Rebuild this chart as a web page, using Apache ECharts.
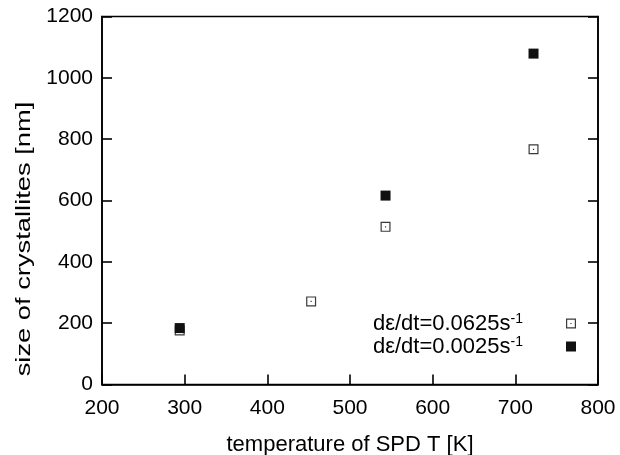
<!DOCTYPE html>
<html>
<head>
<meta charset="utf-8">
<script src="https://cdn.jsdelivr.net/npm/echarts@6/dist/echarts.min.js"></script>
<style>
html,body{margin:0;padding:0;background:#fff;}
#chart{width:620px;height:455px;}
</style>
</head>
<body>
<div id="chart"></div>
<script>
// ---- data ----
const xTitle = 'temperature of SPD T [K]';
const yTitle = 'size of crystallites [nm]';
const seriesNames = ['dε/dt=0.0625s^-1', 'dε/dt=0.0025s^-1'];
const tempFast = [294, 453, 543, 722];
const sizeFast = [176, 271, 514, 767];
const tempSlow = [294, 543, 722];
const sizeSlow = [184, 616, 1079];
const xTicks = [200, 300, 400, 500, 600, 700, 800];
const yTicks = [0, 200, 400, 600, 800, 1000, 1200];

const FONT = 'Liberation Sans, Arial, Helvetica, sans-serif';
const openSquare = 'path://M0,0H10V10H0Z M1.2,1.2V8.8H8.8V1.2Z M4.4,4.4H5.6V5.6H4.4Z';

function zip(a, b) { return a.map((v, i) => [v, b[i]]); }

const chart = echarts.init(document.getElementById('chart'), null, {renderer: 'canvas'});
const axisLineStyle = {color: '#000', width: 1.6};
chart.setOption({
  animation: false,
  backgroundColor: '#fff',
  textStyle: {fontFamily: FONT},
  grid: {left: 102, right: 22, top: 16.5, bottom: 70.5, containLabel: false, outerBoundsMode: 'none',
         show: true, borderColor: '#000', borderWidth: 1.6, backgroundColor: 'transparent'},
  graphic: [{
    type: 'text', x: 24, y: 239, rotation: Math.PI / 2, scaleX: 1.3,
    style: {text: yTitle, font: '21px ' + FONT, fill: '#000', align: 'center', verticalAlign: 'middle'}
  }],
  legend: {
    orient: 'vertical', right: 44, top: 312, align: 'right', padding: 0,
    itemWidth: 10, itemHeight: 10, itemGap: 0,
    data: seriesNames,
    formatter: function (name) {
      const parts = name.split('^');
      return '{m|' + parts[0] + '}{s|' + parts[1] + '}{g|}';
    },
    textStyle: {
      fontFamily: FONT, color: '#000',
      rich: {
        m: {fontSize: 22, lineHeight: 23, verticalAlign: 'bottom', fontFamily: FONT, color: '#000'},
        s: {fontSize: 14, lineHeight: 14, verticalAlign: 'top', fontFamily: FONT, color: '#000'},
        g: {width: 38}
      }
    }
  },
  xAxis: {
    type: 'value', min: 200, max: 800, interval: 100,
    name: xTitle, nameLocation: 'middle', nameGap: 49,
    nameTextStyle: {fontSize: 22, fontFamily: FONT, color: '#000'},
    axisLine: {show: true, lineStyle: axisLineStyle},
    axisTick: {show: true, inside: true, length: 10, lineStyle: axisLineStyle},
    axisLabel: {fontSize: 21, fontFamily: FONT, color: '#000', margin: 13,
      formatter: function (v) { return xTicks.indexOf(v) >= 0 ? String(v) : ''; }},
    splitLine: {show: false}
  },
  yAxis: [{
    type: 'value', min: 0, max: 1200, interval: 200,
    axisLine: {show: true, lineStyle: axisLineStyle},
    axisTick: {show: true, inside: true, length: 10, lineStyle: axisLineStyle},
    axisLabel: {fontSize: 21, fontFamily: FONT, color: '#000', margin: 9,
      formatter: function (v) { return yTicks.indexOf(v) >= 0 ? String(v) : ''; }},
    splitLine: {show: false}
  }, {
    type: 'value', min: 0, max: 1200, interval: 200, position: 'right',
    axisLine: {show: true, lineStyle: axisLineStyle},
    axisTick: {show: true, inside: true, length: 10, lineStyle: axisLineStyle},
    axisLabel: {show: false},
    splitLine: {show: false}
  }],
  series: [{
    name: seriesNames[0], type: 'scatter',
    data: zip(tempFast, sizeFast),
    symbol: openSquare, symbolSize: 10,
    itemStyle: {color: '#3a3a3a', opacity: 1}
  }, {
    name: seriesNames[1], type: 'scatter',
    data: zip(tempSlow, sizeSlow),
    symbol: 'rect', symbolSize: 10,
    itemStyle: {color: '#111', opacity: 1}
  }]
});
</script>
</body>
</html>
